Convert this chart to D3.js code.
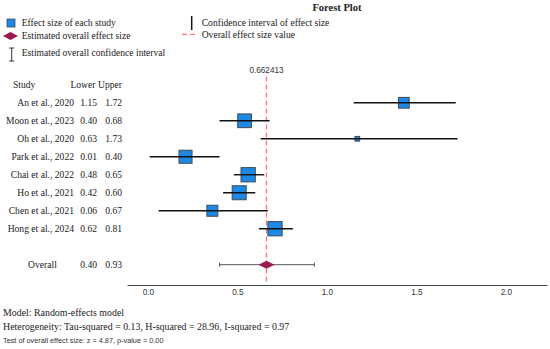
<!DOCTYPE html>
<html>
<head>
<meta charset="utf-8">
<script src="https://cdn.jsdelivr.net/npm/d3@7"></script>
<style>
  body { margin: 0; background: #fff; }
  svg { display: block; }
  .serif { font-family: "Liberation Serif", "Times New Roman", serif; fill: #222; }
  .sans { font-family: "Liberation Sans", Arial, sans-serif; fill: #333; }
</style>
</head>
<body>
<div id="chart"></div>
<script>
// Study rows, top to bottom.
var studies = ["An et al., 2020", "Moon et al., 2023", "Oh et al., 2020", "Park et al., 2022",
               "Chai et al., 2022", "Ho et al., 2021", "Chen et al., 2021", "Hong et al., 2024"];
var effects = [1.43, 0.54, 1.17, 0.21, 0.56, 0.51, 0.36, 0.71];
var lowers  = [1.15, 0.40, 0.63, 0.01, 0.48, 0.42, 0.06, 0.62];
var uppers  = [1.72, 0.68, 1.73, 0.40, 0.65, 0.60, 0.67, 0.81];
var weights = [11.2, 14.3, 4.9, 13.6, 14.9, 14.6, 11.5, 14.9];

// Pooled estimate.
var overallEffect = 0.662413,
    overallLower = 0.40,
    overallUpper = 0.93;

var xTicks = [0, 0.5, 1.0, 1.5, 2.0];

var notes = [
  "Model: Random-effects model",
  "Heterogeneity: Tau-squared = 0.13, H-squared = 28.96, I-squared = 0.97"
];
var testNote = "Test of overall effect size: z = 4.87, p-value = 0.00";

var width = 550, height = 349;

var svg = d3.select("#chart").append("svg")
  .attr("width", width)
  .attr("height", height);

// Scales.
var rowKeys = ["header"].concat(studies, ["gap", "overall"]);
var y = d3.scalePoint().domain(rowKeys).range([84.8, 264.7]);
var x = d3.scaleLinear().domain([-0.117, 2.23]).range([127, 547]);
var side = d3.scaleLinear().domain([0, d3.max(weights)]).range([0, 14.3]);

var fs = 9.6;

// Title and legend.
svg.append("text").attr("class", "serif")
  .attr("x", 337).attr("y", 7).attr("dy", "0.35em")
  .attr("text-anchor", "middle")
  .style("font-weight", "bold").style("font-size", "10.5px")
  .text("Forest Plot");

var legend = svg.append("g");
legend.append("rect")
  .attr("x", 7).attr("y", 19).attr("width", 8).attr("height", 8)
  .attr("fill", "#1e88e5").attr("stroke", "#3a4a5a").attr("stroke-width", 0.8);
legend.append("path")
  .attr("d", "M3,36 L10.5,32 L18,36 L10.5,40 Z")
  .attr("fill", "#9b1a4f");
legend.append("path")
  .attr("d", "M11.7,48 V61 M9.2,48 H14.2 M9.2,61 H14.2")
  .attr("stroke", "#333").attr("stroke-width", 1).attr("fill", "none");
legend.append("line")
  .attr("x1", 191.7).attr("x2", 191.7).attr("y1", 16).attr("y2", 30)
  .attr("stroke", "#111").attr("stroke-width", 1.5);
legend.append("line")
  .attr("x1", 182).attr("x2", 198).attr("y1", 34.3).attr("y2", 34.3)
  .attr("stroke", "#ff7a7a").attr("stroke-width", 1.2).attr("stroke-dasharray", "5,3");

var legendTexts = [
  { x: 21.7, y: 22.7, t: "Effect size of each study" },
  { x: 21.7, y: 36, t: "Estimated overall effect size" },
  { x: 21.7, y: 52.3, t: "Estimated overall confidence interval" },
  { x: 201.7, y: 22.7, t: "Confidence interval of effect size" },
  { x: 201.7, y: 34.3, t: "Overall effect size value" }
];
legend.selectAll("text.lt").data(legendTexts).enter().append("text")
  .attr("class", "serif lt")
  .attr("x", function(d) { return d.x; })
  .attr("y", function(d) { return d.y; })
  .attr("dy", "0.35em")
  .style("font-size", fs + "px")
  .text(function(d) { return d.t; });

// Table headers.
var head = svg.append("g").attr("class", "serif").style("font-size", fs + "px");
head.append("text").attr("x", 13).attr("y", y("header")).attr("dy", "0.35em").text("Study");
head.append("text").attr("x", 95.5).attr("y", y("header")).attr("dy", "0.35em")
  .attr("text-anchor", "end").text("Lower");
head.append("text").attr("x", 122).attr("y", y("header")).attr("dy", "0.35em")
  .attr("text-anchor", "end").text("Upper");

// Table rows.
var rows = studies.map(function(s, i) {
  return { name: s, effect: effects[i], lower: lowers[i], upper: uppers[i], weight: weights[i] };
});

var table = svg.append("g").attr("class", "serif").style("font-size", fs + "px");
var tr = table.selectAll("g").data(rows).enter().append("g")
  .attr("transform", function(d) { return "translate(0," + y(d.name) + ")"; });
tr.append("text").attr("x", 74).attr("dy", "0.35em").attr("text-anchor", "end")
  .text(function(d) { return d.name; });
tr.append("text").attr("x", 97).attr("dy", "0.35em").attr("text-anchor", "end")
  .text(function(d) { return d.lower.toFixed(2); });
tr.append("text").attr("x", 122).attr("dy", "0.35em").attr("text-anchor", "end")
  .text(function(d) { return d.upper.toFixed(2); });

table.append("text").attr("x", 42.5).attr("y", y("overall")).attr("dy", "0.35em")
  .attr("text-anchor", "middle").text("Overall");
table.append("text").attr("x", 97).attr("y", y("overall")).attr("dy", "0.35em")
  .attr("text-anchor", "end").text(overallLower.toFixed(2));
table.append("text").attr("x", 122).attr("y", y("overall")).attr("dy", "0.35em")
  .attr("text-anchor", "end").text(overallUpper.toFixed(2));

// Reference line for the pooled effect.
svg.append("line")
  .attr("x1", x(overallEffect)).attr("x2", x(overallEffect))
  .attr("y1", 76.5).attr("y2", 284)
  .attr("stroke", "#ff7070").attr("stroke-width", 1.2)
  .attr("stroke-dasharray", "5,3");
svg.append("text").attr("class", "sans")
  .attr("x", x(overallEffect)).attr("y", 70).attr("dy", "0.35em")
  .attr("text-anchor", "middle").style("font-size", "8.2px")
  .text(String(overallEffect));

// Study squares, then CI lines on top.
var marks = svg.append("g");
marks.selectAll("rect").data(rows).enter().append("rect")
  .attr("x", function(d) { return x(d.effect) - side(d.weight) / 2; })
  .attr("y", function(d) { return y(d.name) - side(d.weight) / 2; })
  .attr("width", function(d) { return side(d.weight); })
  .attr("height", function(d) { return side(d.weight); })
  .attr("fill", "#1e88e5")
  .attr("stroke", "#3d4d5c")
  .attr("stroke-width", 1);
marks.selectAll("line").data(rows).enter().append("line")
  .attr("x1", function(d) { return x(d.lower); })
  .attr("x2", function(d) { return x(d.upper); })
  .attr("y1", function(d) { return y(d.name); })
  .attr("y2", function(d) { return y(d.name); })
  .attr("stroke", "#111").attr("stroke-width", 1.4);

// Overall CI with caps and diamond.
var oy = y("overall");
svg.append("path")
  .attr("d", "M" + x(overallLower) + "," + oy + " H" + x(overallUpper) +
             " M" + x(overallLower) + "," + (oy - 2) + " V" + (oy + 2) +
             " M" + x(overallUpper) + "," + (oy - 2) + " V" + (oy + 2))
  .attr("stroke", "#555").attr("stroke-width", 1).attr("fill", "none");
var ox = x(overallEffect);
svg.append("path")
  .attr("d", "M" + (ox - 8) + "," + oy + " L" + ox + "," + (oy - 4) +
             " L" + (ox + 8) + "," + oy + " L" + ox + "," + (oy + 4) + " Z")
  .attr("fill", "#9b1a4f");

// X axis.
var axis = svg.append("g")
  .attr("transform", "translate(0,285)")
  .call(d3.axisBottom(x).tickValues(xTicks).tickSize(0).tickPadding(4)
        .tickFormat(d3.format(".1f")));
axis.select(".domain").attr("stroke", "#444");
axis.selectAll("text")
  .style("font-family", "'Liberation Sans', Arial, sans-serif")
  .style("font-size", "8.2px").attr("fill", "#333");

// Footnotes.
svg.selectAll("text.note").data(notes).enter().append("text")
  .attr("class", "serif note")
  .attr("x", 3).attr("y", function(d, i) { return 312.7 + i * 14; })
  .attr("dy", "0.35em").style("font-size", "9.9px")
  .text(function(d) { return d; });
svg.append("text").attr("class", "sans")
  .attr("x", 3).attr("y", 340).attr("dy", "0.35em")
  .style("font-size", "7.3px").attr("fill", "#222")
  .text(testNote);
</script>
</body>
</html>
